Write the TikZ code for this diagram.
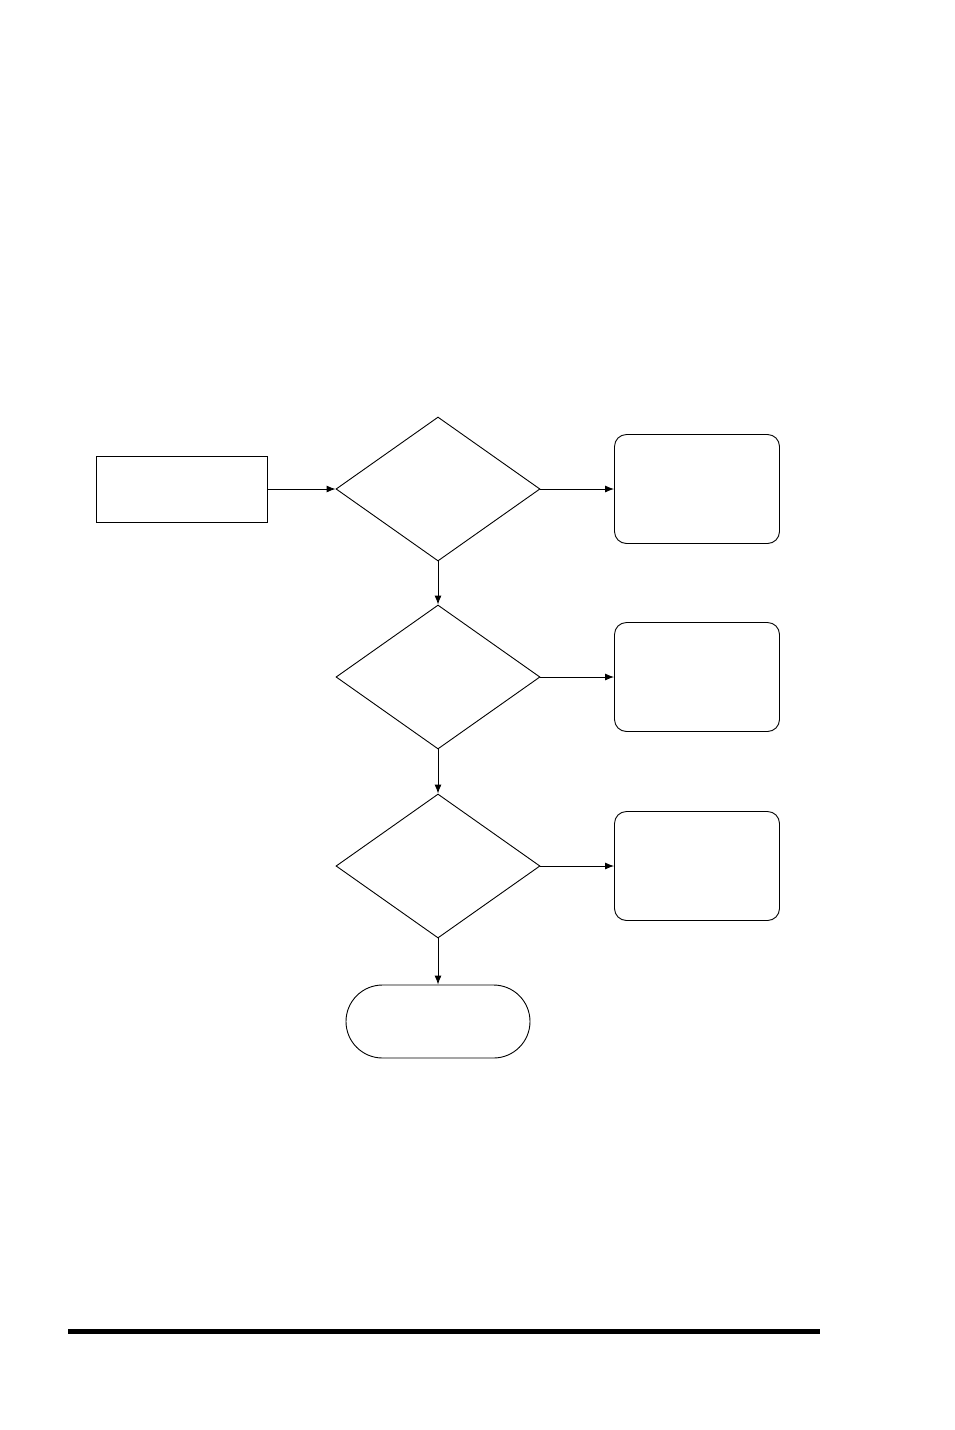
\documentclass[tikz,border=0pt]{standalone}
\usepackage{tikz}
\usetikzlibrary{shapes,shapes.geometric}
\usetikzlibrary{arrows.meta}
\tikzstyle{box}=[draw, line width=0.9pt, minimum width=171pt, minimum height=66pt, inner sep=0pt]
\tikzstyle{decision}=[draw, diamond, line width=0.9pt, minimum width=204pt, minimum height=144pt, aspect=1.417, inner sep=0pt]
\tikzstyle{outcome}=[draw, rounded corners=12pt, line width=0.9pt, minimum width=165pt, minimum height=109pt, inner sep=0pt]
\tikzstyle{terminal}=[draw, rounded rectangle, line width=0.9pt, minimum width=184pt, minimum height=73pt, inner sep=0pt]
\tikzstyle{arr}=[line width=0.9pt, -{Latex[length=9pt,width=7pt]}]

\begin{document}
\begin{tikzpicture}[x=1pt,y=-1pt]
\useasboundingbox (0,0) rectangle (954,1430);
\node[box] (start) at (181.5,489) {};
\foreach \n/\y in {1/489,2/677,3/866} {
	\node[decision] (dec\n) at (438,\y) {};
	\node[outcome] (out\n) at (697,\y) {};
	\draw[arr] (dec\n.east) -- (out\n.west);
}
\node[terminal] (stop) at (438,1021.5) {};
\draw[arr] (start.east) -- (dec1.west);
\draw[arr] (dec1.south) -- (dec2.north);
\draw[arr] (dec2.south) -- (dec3.north);
\draw[arr] (dec3.south) -- (stop.north);
\draw[line width=5pt] (68,1331) -- (820,1331);
\end{tikzpicture}
\end{document}
